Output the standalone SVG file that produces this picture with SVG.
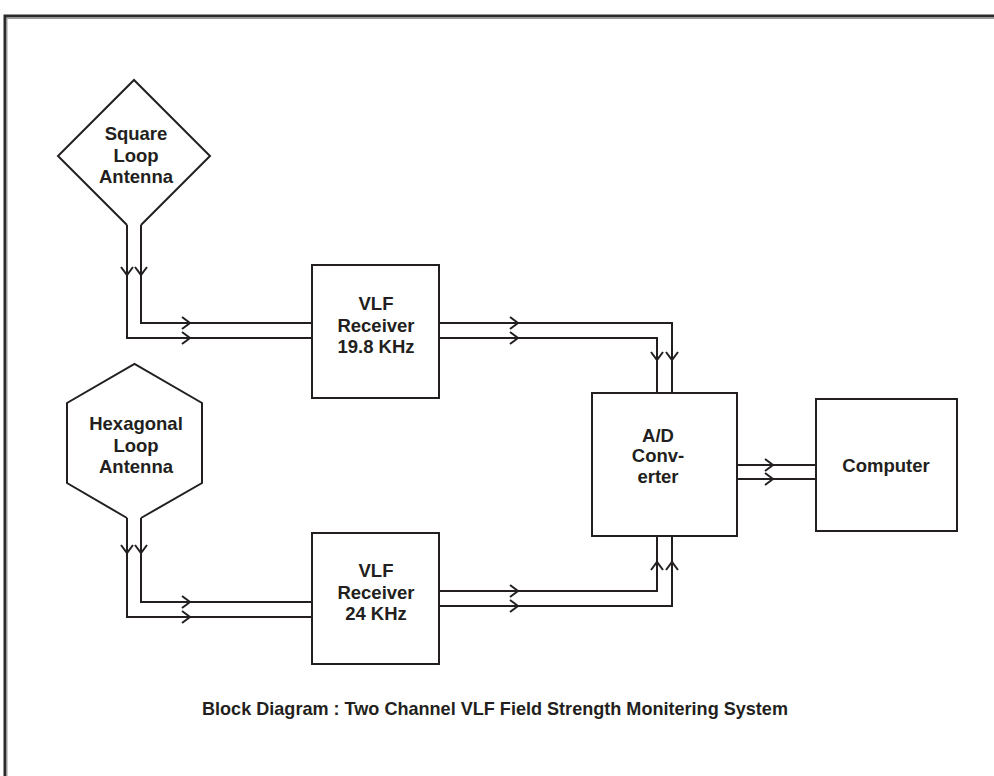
<svg xmlns="http://www.w3.org/2000/svg" xmlns:xlink="http://www.w3.org/1999/xlink" width="994" height="776" viewBox="0 0 994 776">
<style>
.ln{fill:none;stroke:#231f20;stroke-width:2;stroke-linejoin:miter}
.box{fill:#fff;stroke:#231f20;stroke-width:2}
.t{font-family:"Liberation Sans",Arial,sans-serif;font-weight:bold;font-size:18.5px;fill:#231f20;text-anchor:middle}
</style>
<defs>
<path id="chev" d="M-8,-6 L0,0 L-8,6" fill="none" stroke="#231f20" stroke-width="2"/>
</defs>
<rect width="994" height="776" fill="#fff"/>
<path d="M5,776 V16 H994" fill="none" stroke="#2b2b2b" stroke-width="3"/>
<path d="M7,776 V18.5 H994" fill="none" stroke="#9a9a9a" stroke-width="1"/>

<g id="connectors">
<path class="ln" d="M127,225 V338 H312"/>
<path class="ln" d="M141,225 V323 H312"/>
<path class="ln" d="M439,323 H672 V393"/>
<path class="ln" d="M439,338 H657 V393"/>
<path class="ln" d="M737,465 H816"/>
<path class="ln" d="M737,479 H816"/>
<path class="ln" d="M127,518 V617 H312"/>
<path class="ln" d="M141,518 V602 H312"/>
<path class="ln" d="M439,591 H657 V536"/>
<path class="ln" d="M439,606 H672 V536"/>
<use xlink:href="#chev" transform="translate(127,275) rotate(90)"/>
<use xlink:href="#chev" transform="translate(141,275) rotate(90)"/>
<use xlink:href="#chev" transform="translate(190,323)"/>
<use xlink:href="#chev" transform="translate(190,338)"/>
<use xlink:href="#chev" transform="translate(518,323)"/>
<use xlink:href="#chev" transform="translate(518,338)"/>
<use xlink:href="#chev" transform="translate(657,360) rotate(90)"/>
<use xlink:href="#chev" transform="translate(672,360) rotate(90)"/>
<use xlink:href="#chev" transform="translate(773,465)"/>
<use xlink:href="#chev" transform="translate(773,479)"/>
<use xlink:href="#chev" transform="translate(127,553) rotate(90)"/>
<use xlink:href="#chev" transform="translate(141,553) rotate(90)"/>
<use xlink:href="#chev" transform="translate(190,602)"/>
<use xlink:href="#chev" transform="translate(190,617)"/>
<use xlink:href="#chev" transform="translate(518,591)"/>
<use xlink:href="#chev" transform="translate(518,606)"/>
<use xlink:href="#chev" transform="translate(657,562) rotate(-90)"/>
<use xlink:href="#chev" transform="translate(672,562) rotate(-90)"/>
</g>

<g id="square-antenna">
<path class="ln" d="M127,225 L58,156 L134,80 L210,156 L141,225"/>
<text class="t" x="136" y="140">Square</text>
<text class="t" x="136" y="162">Loop</text>
<text class="t" x="136" y="183">Antenna</text>
</g>

<g id="hex-antenna">
<path class="ln" d="M127,518 L67,483 L67,403 L134.5,364 L202,403 L202,483 L141,518"/>
<text class="t" x="136" y="430">Hexagonal</text>
<text class="t" x="136" y="452">Loop</text>
<text class="t" x="136" y="473">Antenna</text>
</g>

<g id="receiver1">
<rect class="box" x="312" y="265" width="127" height="133"/>
<text class="t" x="376" y="310">VLF</text>
<text class="t" x="376" y="332">Receiver</text>
<text class="t" x="376" y="353">19.8 KHz</text>
</g>

<g id="receiver2">
<rect class="box" x="312" y="533" width="127" height="131"/>
<text class="t" x="376" y="577">VLF</text>
<text class="t" x="376" y="599">Receiver</text>
<text class="t" x="376" y="620">24 KHz</text>
</g>

<g id="adc">
<rect class="box" x="592" y="393" width="145" height="143"/>
<text class="t" x="658" y="442">A/D</text>
<text class="t" x="658" y="462">Conv-</text>
<text class="t" x="658" y="483">erter</text>
</g>

<g id="computer">
<rect class="box" x="816" y="399" width="141" height="132"/>
<text class="t" x="886" y="472">Computer</text>
</g>

<text class="t" x="495" y="715" font-size="17" textLength="586" lengthAdjust="spacingAndGlyphs">Block Diagram : Two Channel VLF Field Strength Monitering System</text>
</svg>
